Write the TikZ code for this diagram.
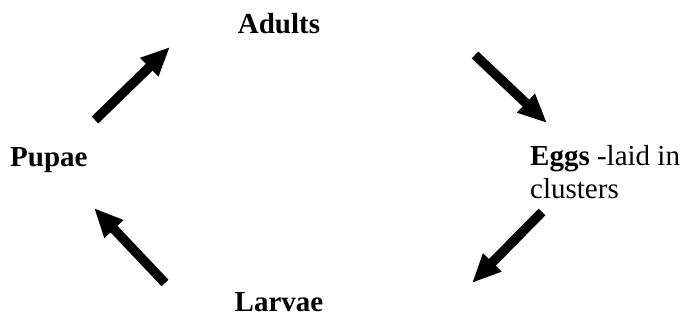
\documentclass[tikz,border=0pt]{standalone}
\usepackage{fontspec}
\setmainfont{Liberation Serif}
\usetikzlibrary{arrows.meta}
\begin{document}
\begin{tikzpicture}[x=1pt,y=-1pt,
  lbl/.style={inner sep=0pt,font=\fontsize{29}{33}\selectfont},
  bigarrow/.style={line width=9.5pt,-{Triangle[length=29pt,width=24pt]}}]
\useasboundingbox (0,0) rectangle (697,324);
\node[lbl,anchor=base] (adults) at (279,34) {\textbf{Adults}};
\node[lbl,anchor=base west] (pupae) at (10,166) {\textbf{Pupae}};
\node[lbl,anchor=base] (larvae) at (279,311) {\textbf{Larvae}};
\node[lbl,anchor=base west,align=left] (eggs) at (530,198) {\textbf{Eggs} -laid in\\clusters};
\coordinate (a1s) at (95,120); \coordinate (a1e) at (170,47);
\coordinate (a2s) at (475,55); \coordinate (a2e) at (547,123);
\coordinate (a3s) at (542,212); \coordinate (a3e) at (472,283);
\coordinate (a4s) at (165,283); \coordinate (a4e) at (94,208);
\draw[bigarrow] (a1s) -- (a1e);
\draw[bigarrow] (a2s) -- (a2e);
\draw[bigarrow] (a3s) -- (a3e);
\draw[bigarrow] (a4s) -- (a4e);
\end{tikzpicture}
\end{document}
